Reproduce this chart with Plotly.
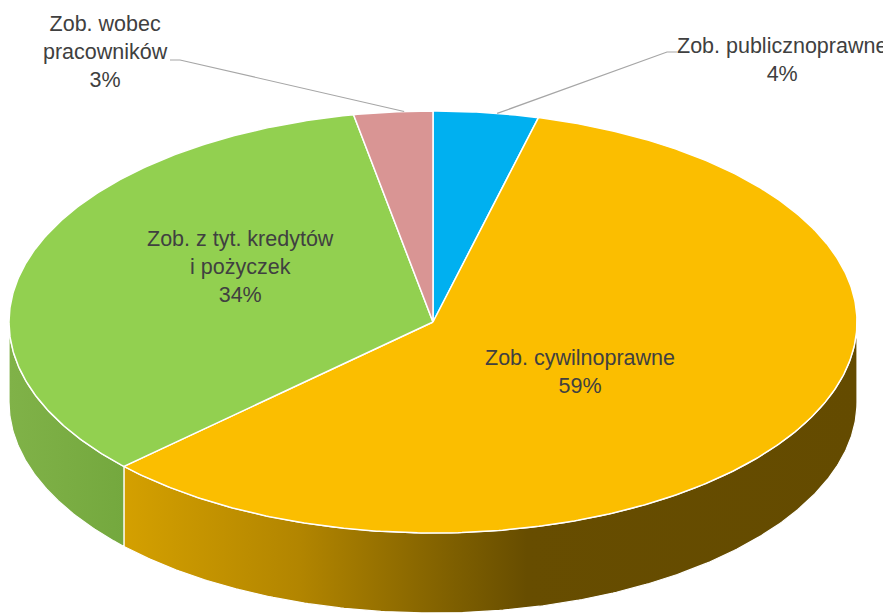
import numpy as np
import plotly.graph_objects as go

# ---- data ----
labels = ["Zob. publicznoprawne", "Zob. cywilnoprawne", "Zob. z tyt. kredytów<br>i pożyczek", "Zob. wobec<br>pracowników"]
values = [4, 59, 34, 3]
colors = ["#00B0F0", "#FBBE00", "#92D050", "#D99594"]
side_scales = [
    None,
    [[0, "rgb(212,160,0)"], [0.24, "rgb(178,133,0)"], [0.45, "rgb(126,95,0)"], [0.55, "rgb(103,77,0)"], [1, "rgb(100,75,0)"]],
    [[0, "rgb(128,178,72)"], [1, "rgb(116,168,62)"]],
    None,
]

# ---- geometry of the 3D pie (page pixel space; page body has an 8px margin) ----
W, H, OFF = 891, 615, 8
cx, cy, a, b, depth = 433, 322, 424, 211, 80


def pt(t, r=1.0, dy=0.0):
    t = np.radians(t)
    return cx + a * r * np.sin(t), cy - b * r * np.cos(t) + dy


def arc(t1, t2, dy=0.0, n=None):
    n = n or max(4, int(abs(t2 - t1) * 2))
    ts = np.linspace(t1, t2, n)
    xs, ys = pt(ts, 1.0, dy)
    return list(xs), list(ys)


total = sum(values)
starts, ends = [], []
acc = 0.0
for v in values:
    starts.append(acc / total * 360)
    acc += v
    ends.append(acc / total * 360)

fig = go.Figure()

# sides (front half: 90..270 deg)
for i in range(len(values)):
    t1, t2 = max(starts[i], 90), min(ends[i], 270)
    if t2 <= t1:
        continue
    xs, ys = arc(t1, t2)
    xb, yb = arc(t2, t1, depth)
    tr = dict(x=xs + xb + [xs[0]], y=ys + yb + [ys[0]], mode="lines", fill="toself",
              line=dict(color="white", width=1.2), fillcolor=colors[i], hoverinfo="skip", showlegend=False)
    if side_scales[i]:
        tr["fillgradient"] = dict(type="horizontal", colorscale=side_scales[i])
    fig.add_trace(go.Scatter(**tr))

# top slices
for i in range(len(values)):
    xs, ys = arc(starts[i], ends[i])
    fig.add_trace(go.Scatter(x=[cx] + xs + [cx], y=[cy] + ys + [cy], mode="lines", fill="toself",
                             fillcolor=colors[i], line=dict(color="white", width=1.5),
                             hoverinfo="skip", showlegend=False))

# labels
font = dict(family="Liberation Sans Narrow, Arial Narrow, Liberation Sans, Arial", size=21.5, color="#404040")
mids = [(s + e) / 2 for s, e in zip(starts, ends)]
# label centres (page pixels)
label_pos = [(782, 60), (580, 372), (240, 267), (105, 52)]
# outside labels with leader lines: elbow x, elbow y, end x
leaders = {0: (667, 52, 677), 3: (180, 60, 170)}
for i in range(len(values)):
    txt = f"{labels[i]}<br>{values[i]}%"
    lx, ly = label_pos[i]
    if i in leaders:
        ex, ey, ex2 = leaders[i]
        sx, sy = pt(mids[i] + 1.5, 1.0)
        fig.add_trace(go.Scatter(x=[sx, ex, ex2], y=[sy, ey, ey], mode="lines",
                                 line=dict(color="#A6A6A6", width=1.2), hoverinfo="skip", showlegend=False))
    fig.add_annotation(x=lx, y=ly, text=txt, showarrow=False, font=font, xanchor="center", yanchor="middle")

fig.update_layout(
    width=W - OFF, height=H - OFF, margin=dict(l=0, r=0, t=0, b=0),
    paper_bgcolor="white", plot_bgcolor="white",
    xaxis=dict(range=[OFF, W], visible=False, fixedrange=True),
    yaxis=dict(range=[H, OFF], visible=False, fixedrange=True),
)
fig.write_html("out.html")
